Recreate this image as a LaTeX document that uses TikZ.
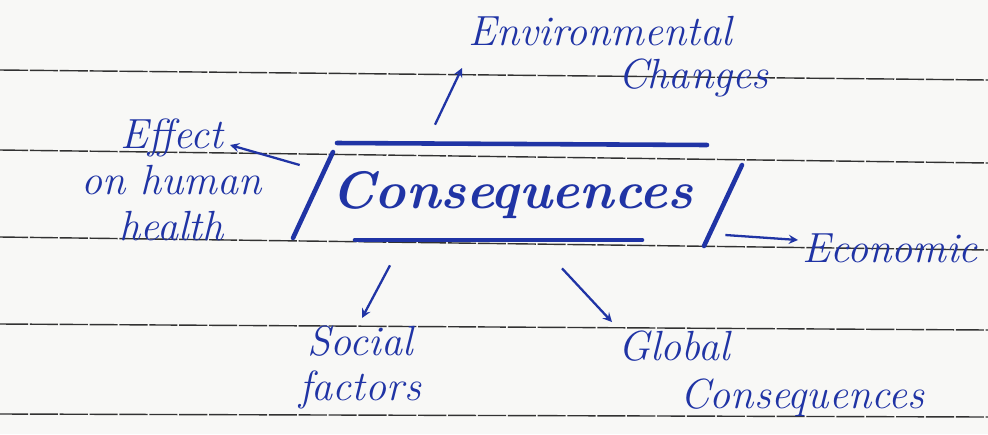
\documentclass[tikz,border=0pt]{standalone}
\usepackage{fontspec}
\usepackage{tikz}
\definecolor{ink}{RGB}{32,52,165}
\definecolor{paper}{RGB}{248,248,246}
\definecolor{rule}{RGB}{50,50,50}
\tikzset{
	word/.style={text=ink,font=\fontsize{24}{26}\selectfont\itshape,inner sep=0pt},
	arr/.style={-stealth,draw=ink,line width=1.3pt},
	pen/.style={draw=ink,line width=2.6pt,line cap=round},
	ruling/.style={draw=rule,line width=0.8pt,dash pattern=on 16pt off 1pt}
}
\begin{document}
\begin{tikzpicture}[x=0.02cm,y=-0.02cm]
		\fill[paper] (0,0) rectangle (988,434);
		\useasboundingbox (0,0) rectangle (988,434);
		\foreach \a/\b in {70/80,150/163,237/250,324/330,414/417}
			\draw[ruling] (0,\a) -- (988,\b);
		
		\node[minimum width=7.6cm,minimum height=1.8cm,inner sep=0pt,text=ink,font=\fontsize{30}{32}\selectfont\bfseries\itshape] (cons) at (512,195) {Consequences};
		\draw[pen] (337,143) -- (707,145);
		\draw[pen] (333,152) -- (293,238);
		\draw[pen] (742,165) -- (704,246);
		\draw[pen] (355,240) -- (642,240);
		
		\node[word,anchor=base west] (env) at (468,45) {Environmental};
		\node[word,anchor=base west] (chg) at (618,88) {Changes};
		\node[word,align=center,anchor=east] (eff) at (262,180) {Effect\\on human\\health};
		\node[word,anchor=base west] (econ) at (802,262) {Economic};
		\node[word,align=center,anchor=north] (soc) at (360,325) {Social\\factors};
		\node[word,anchor=base west] (glob) at (618,360) {Global};
		\node[word,anchor=base west] (globb) at (680,408) {Consequences};
		
		\draw[arr] ([shift={(-77,-25)}]cons.north) -- ([shift={(-6,23)}]env.base west);
		\draw[arr] ([shift={(-22,-30)}]cons.west) -- ([shift={(-32,-35)}]eff.east);
		\draw[arr] ([shift={(23,40)}]cons.east) -- ([shift={(-4,-22)}]econ.base west);
		\draw[arr] ([shift={(-122,25)}]cons.south) -- ([shift={(2,-7)}]soc.north);
		\draw[arr] ([shift={(50,28)}]cons.south) -- ([shift={(-6,-38)}]glob.base west);
	\end{tikzpicture}
\end{document}
